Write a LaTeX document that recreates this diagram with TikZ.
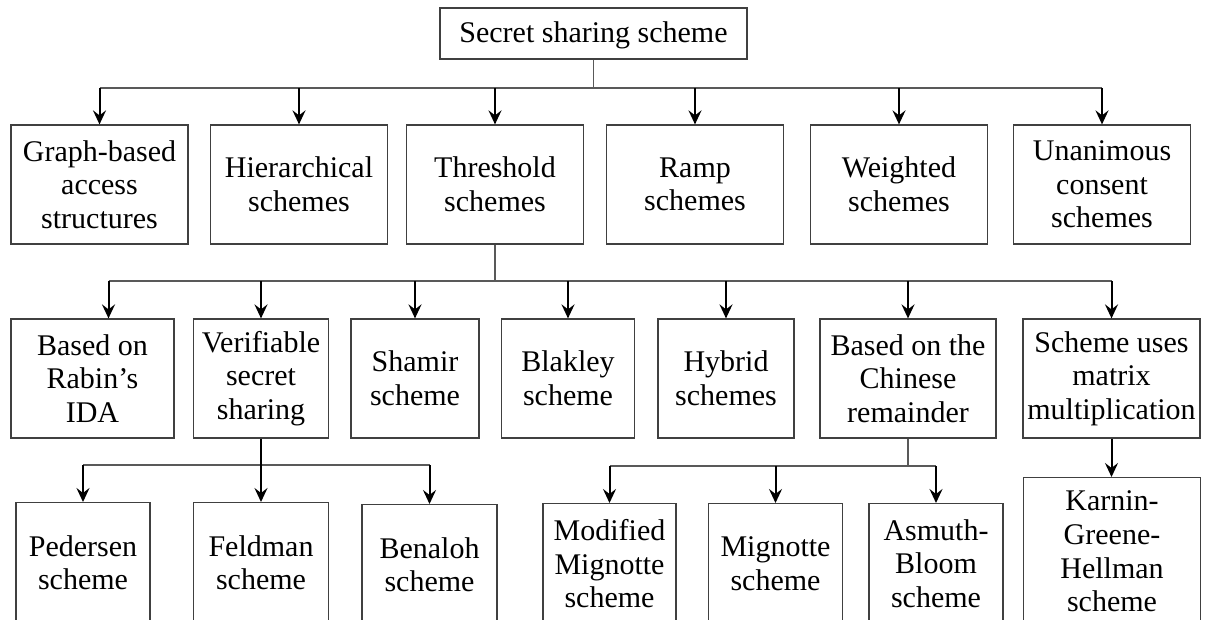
\documentclass[tikz,border=0pt]{standalone}
\usepackage{fontspec}
\setmainfont{Liberation Serif}
\usetikzlibrary{arrows.meta,calc}

\begin{document}
\begin{tikzpicture}[x=0.5pt,y=-0.5pt,
  box/.style={draw=black!75,line width=0.6pt,align=center,inner sep=0pt,
    font=\fontsize{15}{16.8}\selectfont},
  arr/.style={-{Stealth[length=7pt,width=6.5pt,inset=2.5pt]},line width=1pt},
  bus/.style={draw=black!65,line width=0.6pt}]
\useasboundingbox (0,0) rectangle (1208,620);
\clip (0,0) rectangle (1208,620);

\node[box,minimum width=153.5pt,minimum height=25.5pt,text depth=1pt] (root) at (593.5,33.5) {Secret sharing scheme};

% first level
\node[box,minimum width=88.5pt,minimum height=59.5pt] (graph) at (99.5,184.5) {Graph-based\\access\\structures};
\node[box,minimum width=88.5pt,minimum height=59.5pt] (hier) at (299,184.5) {Hierarchical\\schemes};
\node[box,minimum width=88.5pt,minimum height=59.5pt] (thresh) at (495,184.5) {Threshold\\schemes};
\node[box,minimum width=88.5pt,minimum height=59.5pt] (ramp) at (695,184.5) {Ramp\\schemes};
\node[box,minimum width=88.5pt,minimum height=59.5pt] (weight) at (899,184.5) {Weighted\\schemes};
\node[box,minimum width=88.5pt,minimum height=59.5pt] (unan) at (1102,184.5) {Unanimous\\consent\\schemes};

% second level
\node[box,minimum width=81.5pt,minimum height=59.5pt] (rabin) at (92.5,378.5) {Based on\\Rabin’s\\IDA};
\node[box,minimum width=67.5pt,minimum height=59.5pt] (verif) at (261,378.5) {Verifiable\\secret\\sharing};
\node[box,minimum width=64pt,minimum height=59.5pt] (shamir) at (415,378.5) {Shamir\\scheme};
\node[box,minimum width=66.5pt,minimum height=59.5pt] (blakley) at (568,378.5) {Blakley\\scheme};
\node[box,minimum width=68pt,minimum height=59.5pt] (hybrid) at (726,378.5) {Hybrid\\schemes};
\node[box,minimum width=88pt,minimum height=59.5pt] (chinese) at (908,378.5) {Based on the\\Chinese\\remainder};
\node[box,minimum width=88.5pt,minimum height=59.5pt] (matrix) at (1111.5,378.5) {Scheme uses\\matrix\\multiplication};

% third level
\node[box,anchor=north,minimum width=67pt,minimum height=60pt] (pedersen) at (83,502) {Pedersen\\scheme};
\node[box,anchor=north,minimum width=67.5pt,minimum height=60pt] (feldman) at (261,502) {Feldman\\scheme};
\node[box,anchor=north,minimum width=67.5pt,minimum height=60pt] (benaloh) at (429.5,504) {Benaloh\\scheme};
\node[box,anchor=north,minimum width=66.5pt,minimum height=60pt] (modmig) at (609.5,503) {Modified\\Mignotte\\scheme};
\node[box,anchor=north,minimum width=67pt,minimum height=60pt] (mignotte) at (775.5,503) {Mignotte\\scheme};
\node[box,anchor=north,minimum width=67pt,minimum height=60pt] (asmuth) at (936,503) {Asmuth-\\Bloom\\scheme};
\node[box,anchor=north,minimum width=88.5pt,minimum height=74pt] (karnin) at (1112,477) {Karnin-\\Greene-\\Hellman\\scheme};

% connectors
\coordinate (busa) at (593.5,88);
\draw[bus] (root.south) -- (busa);
\draw[bus] (busa -| graph.north) -- (busa -| unan.north);
\foreach \n in {graph,hier,thresh,ramp,weight,unan}{
\draw[arr] (busa -| \n.north) -- (\n.north);
}

\coordinate (busb) at (495,281);
\coordinate (rabtop) at ($(rabin.north)+(16,0)$);
\draw[bus] (thresh.south) -- (busb);
\draw[bus] (busb -| rabtop) -- (busb -| matrix.north);
\draw[arr] (busb -| rabtop) -- (rabtop);
\foreach \n in {verif,shamir,blakley,hybrid,chinese,matrix}{
\draw[arr] (busb -| \n.north) -- (\n.north);
}

\coordinate (busc) at (261,465);
\draw[bus] (busc -| pedersen.north) -- (busc -| benaloh.north);
\draw[arr] (verif.south) -- (verif.south |- feldman.north);
\foreach \n in {pedersen,benaloh}{
\draw[arr] (busc -| \n.north) -- (\n.north);
}

\coordinate (busd) at (908,466);
\draw[bus] (chinese.south) -- (busd);
\draw[bus] (busd -| modmig.north) -- (busd -| asmuth.north);
\foreach \n in {modmig,mignotte,asmuth}{
\draw[arr] (busd -| \n.north) -- (\n.north);
}

\draw[arr] (matrix.south) -- (matrix.south |- karnin.north);

\end{tikzpicture}
\end{document}
